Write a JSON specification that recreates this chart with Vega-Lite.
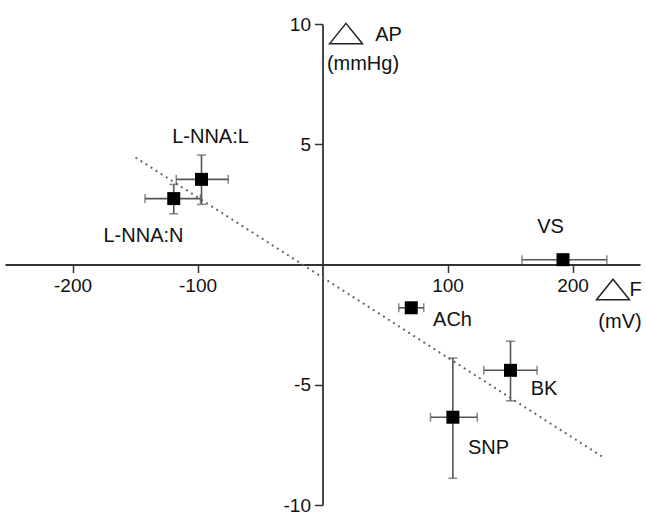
{
  "$schema": "https://vega.github.io/schema/vega-lite/v6.json",
  "width": 635,
  "height": 481,
  "autosize": {"type": "none"},
  "padding": {"left": 5, "top": 24, "right": 6, "bottom": 10},
  "background": "white",
  "config": {"view": {"stroke": null}, "font": "Liberation Sans"},
  "datasets": {
    "points": [
      {"name": "L-NNA:L", "x": -96.8, "xlo": -117, "xhi": -75.4, "y": 3.54, "ylo": 2.5, "yhi": 4.55},
      {"name": "L-NNA:N", "x": -119, "xlo": -142, "xhi": -97.6, "y": 2.74, "ylo": 2.11, "yhi": 3.33},
      {"name": "ACh", "x": 71, "xlo": 61, "xhi": 81, "y": -1.8, "ylo": -1.95, "yhi": -1.65},
      {"name": "VS", "x": 192.4, "xlo": 159.6, "xhi": 227.5, "y": 0.2, "ylo": 0.1, "yhi": 0.3},
      {"name": "BK", "x": 150.4, "xlo": 129, "xhi": 171.7, "y": -4.4, "ylo": -5.67, "yhi": -3.19},
      {"name": "SNP", "x": 104.3, "xlo": 86.4, "xhi": 123.8, "y": -6.35, "ylo": -8.89, "yhi": -3.89}
    ],
    "fit": [
      {"x": -149.6, "y": 4.45},
      {"x": 223.8, "y": -7.99}
    ],
    "labels": [
      {"text": "L-NNA:L", "x": -89.6, "y": 5.29},
      {"text": "L-NNA:N", "x": -143.2, "y": 1.17},
      {"text": "ACh", "x": 104, "y": -2.29},
      {"text": "VS", "x": 182.4, "y": 1.54},
      {"text": "BK", "x": 177.2, "y": -5.17},
      {"text": "SNP", "x": 132.8, "y": -7.63},
      {"text": "AP", "x": 52.8, "y": 9.54},
      {"text": "(mmHg)", "x": 32.4, "y": 8.33},
      {"text": "F", "x": 250.4, "y": -1.04},
      {"text": "(mV)", "x": 238, "y": -2.375}
    ],
    "triangles": [
      {"x": 18.8, "y": 9.6},
      {"x": 232.4, "y": -1.04}
    ]
  },
  "layer": [
    {
      "data": {"name": "fit"},
      "mark": {"type": "line", "strokeDash": [2, 4], "strokeWidth": 2, "color": "#666"},
      "encoding": {
        "x": {
          "field": "x", "type": "quantitative",
          "scale": {"domain": [-254, 254], "nice": false, "zero": false},
          "axis": {
            "orient": "bottom", "offset": -240.5, "values": [-200, -100, 100, 200],
            "labelExpr": "'' + datum.value",
            "title": null, "grid": false,
            "domainColor": "#333", "domainWidth": 1.8,
            "tickColor": "#333", "tickWidth": 1.5, "tickSize": 8,
            "labelFontSize": 19, "labelColor": "#111", "labelPadding": 4
          }
        },
        "y": {
          "field": "y", "type": "quantitative",
          "scale": {"domain": [-10, 10], "nice": false, "zero": false},
          "axis": {
            "orient": "left", "offset": -317.5, "values": [-10, -5, 5, 10],
            "labelExpr": "'' + datum.value",
            "title": null, "grid": false,
            "domainColor": "#333", "domainWidth": 1.8,
            "tickColor": "#333", "tickWidth": 1.5, "tickSize": 8,
            "labelFontSize": 19, "labelColor": "#111", "labelPadding": 4
          }
        }
      }
    },
    {
      "data": {"name": "points"},
      "mark": {"type": "errorbar", "ticks": {"size": 9, "thickness": 1.5, "color": "#555"}, "rule": {"strokeWidth": 1.6, "color": "#555"}},
      "encoding": {
        "x": {"field": "xlo", "type": "quantitative"},
        "x2": {"field": "xhi"},
        "y": {"field": "y", "type": "quantitative"}
      }
    },
    {
      "data": {"name": "points"},
      "mark": {"type": "errorbar", "ticks": {"size": 9, "thickness": 1.5, "color": "#555"}, "rule": {"strokeWidth": 1.6, "color": "#555"}},
      "encoding": {
        "y": {"field": "ylo", "type": "quantitative"},
        "y2": {"field": "yhi"},
        "x": {"field": "x", "type": "quantitative"}
      }
    },
    {
      "data": {"name": "points"},
      "mark": {"type": "point", "shape": "square", "filled": true, "size": 169, "color": "#000", "opacity": 1},
      "encoding": {
        "x": {"field": "x", "type": "quantitative"},
        "y": {"field": "y", "type": "quantitative"}
      }
    },
    {
      "data": {"name": "triangles"},
      "mark": {"type": "point", "shape": "M-1,0.62L0,-0.62L1,0.62Z", "filled": false, "size": 1089, "stroke": "#222", "strokeWidth": 1.5, "opacity": 1},
      "encoding": {
        "x": {"field": "x", "type": "quantitative"},
        "y": {"field": "y", "type": "quantitative"}
      }
    },
    {
      "data": {"name": "labels"},
      "mark": {"type": "text", "fontSize": 20, "font": "Liberation Sans", "color": "#111", "align": "center", "baseline": "middle"},
      "encoding": {
        "x": {"field": "x", "type": "quantitative"},
        "y": {"field": "y", "type": "quantitative"},
        "text": {"field": "text"}
      }
    }
  ]
}
